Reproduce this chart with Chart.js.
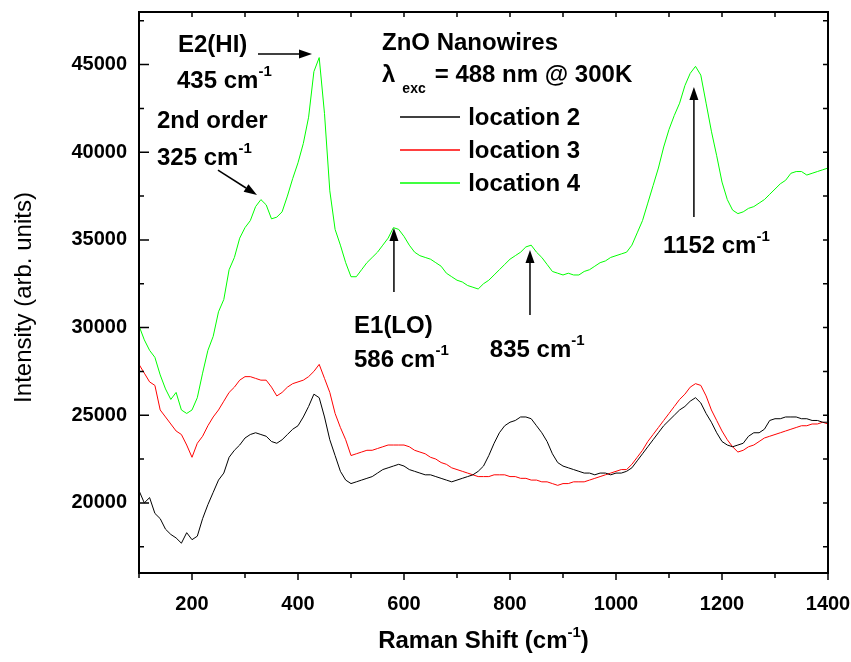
<!DOCTYPE html>
<html>
<head>
<meta charset="utf-8">
<script src="https://cdn.jsdelivr.net/npm/chart.js@4.4.1/dist/chart.umd.min.js"></script>
<style>
html,body{margin:0;padding:0;background:#fff;}
#c{display:block;}
</style>
</head>
<body>
<canvas id="c" width="851" height="662"></canvas>
<script>
// Raman shift sampling (cm-1)
const shift = [100,110,120,130,140,150,160,170,180,190,
200,210,220,230,240,250,260,270,280,290,
300,310,320,330,340,350,360,370,380,390,
400,410,420,430,440,450,460,470,480,490,
500,510,520,530,540,550,560,570,580,590,
600,610,620,630,640,650,660,670,680,690,
700,710,720,730,740,750,760,770,780,790,
800,810,820,830,840,850,860,870,880,890,
900,910,920,930,940,950,960,970,980,990,
1000,1010,1020,1030,1040,1050,1060,1070,1080,1090,
1100,1110,1120,1130,1140,1150,1160,1170,1180,1190,
1200,1210,1220,1230,1240,1250,1260,1270,1280,1290,
1300,1310,1320,1330,1340,1350,1360,1370,1380,1390,
1400];

const location2 = [20700,20000,20300,19400,19100,18500,18200,18000,17700,18300,
17900,18100,19100,19900,20600,21300,21700,22600,23000,23300,
23700,23900,24000,23900,23800,23500,23400,23600,23900,24200,
24400,24900,25500,26200,26000,24900,23600,22700,21800,21300,
21100,21200,21300,21400,21500,21700,21900,22000,22100,22200,
22100,21900,21800,21700,21600,21600,21500,21400,21300,21200,
21300,21400,21500,21600,21800,22100,22700,23400,24000,24400,
24600,24700,24900,24900,24800,24400,24000,23500,22800,22300,
22100,22000,21900,21800,21700,21700,21600,21700,21700,21600,
21700,21700,21800,22000,22400,22800,23200,23600,24000,24400,
24700,25000,25300,25500,25800,26000,25700,25100,24600,24000,
23500,23300,23200,23300,23400,23800,24000,24000,24200,24700,
24800,24800,24900,24900,24900,24800,24800,24700,24700,24600,
24600];

const location3 = [27900,27400,26900,26700,25300,24900,24500,24100,23900,23300,
22600,23400,23800,24400,24900,25300,25800,26300,26600,27000,
27200,27200,27100,27000,27000,26600,26100,26300,26600,26800,
26900,27000,27200,27500,27900,27100,26300,25100,24300,23600,
22700,22800,22900,23000,23000,23100,23200,23300,23300,23300,
23300,23200,23000,22900,22800,22600,22500,22300,22200,22000,
21900,21800,21700,21600,21500,21500,21500,21600,21600,21600,
21500,21500,21400,21400,21300,21300,21200,21200,21100,21000,
21100,21100,21200,21200,21200,21300,21400,21500,21600,21700,
21800,21900,21900,22200,22600,23000,23500,23900,24300,24700,
25100,25500,25900,26200,26600,26800,26700,26100,25300,24700,
24100,23600,23200,22900,23000,23200,23300,23500,23700,23800,
23900,24000,24100,24200,24300,24400,24400,24500,24500,24600,
24500];

const location4 = [30100,29300,28700,28300,27300,26500,25900,26300,25300,25100,
25300,26000,27400,28700,29500,30900,31600,33300,34000,35100,
35700,36100,36900,37300,37000,36200,36300,36600,37500,38500,
39400,40500,42000,44600,45400,42200,37800,35600,34700,33700,
32900,32900,33300,33700,34000,34300,34700,35100,35700,35600,
35200,34700,34300,34100,34000,33900,33700,33500,33100,32900,
32700,32600,32400,32300,32200,32500,32700,33000,33300,33600,
33900,34100,34300,34600,34700,34300,34000,33600,33200,33100,
33000,33100,33000,33000,33200,33300,33500,33700,33800,34000,
34100,34200,34300,34700,35400,36100,37100,38100,39100,40300,
41300,42100,42800,43800,44500,44900,44400,42800,41200,39800,
38300,37300,36700,36500,36600,36800,36900,37100,37300,37600,
37900,38200,38400,38800,38900,38900,38700,38800,38900,39000,
39100];

const seriesLabels = ['location 2','location 3','location 4'];
const xTicks = [200,400,600,800,1000,1200,1400];
const yTicks = [20000,25000,30000,35000,40000,45000];

const FONT = '"Liberation Sans", Arial, Helvetica, sans-serif';

// annotation texts placed in data coordinates: [text, size, dy, gapBefore]
const notes = [
  {x:173.6, y:45718, parts:[['E2(HI)',24,0,0]]},
  {x:171.7, y:43664, parts:[['435 cm',24,0,0],['-1',15,-12,0]]},
  {x:134, y:41383, parts:[['2nd order',24,0,0]]},
  {x:134, y:39272, parts:[['325 cm',24,0,0],['-1',15,-12,0]]},
  {x:505.7, y:29690, parts:[['E1(LO)',24,0,0]]},
  {x:505.7, y:27750, parts:[['586 cm',24,0,0],['-1',15,-12,0]]},
  {x:762, y:28321, parts:[['835 cm',24,0,0],['-1',15,-12,0]]},
  {x:1088.7, y:34253, parts:[['1152 cm',24,0,0],['-1',15,-12,0]]},
  {x:558.5, y:45832, parts:[['ZnO Nanowires',24,0,0]]},
  {x:558.5, y:44007, parts:[['\u03bb',24,0,0],['exc',14,11,7],['= 488 nm @ 300K',24,0,9]]}
];
const arrows = [
  {x1:324.5, y1:45604, x2:426.4, y2:45604},
  {x1:249, y1:38987, x2:322.6, y2:37561},
  {x1:581, y1:32028, x2:581, y2:35679},
  {x1:837.7, y1:30716, x2:837.7, y2:34424},
  {x1:1147, y1:36306, x2:1147, y2:43721}
];
const legendPos = {x1:592.5, x2:705.7, textX:721, rows:[42010,40128,38246]};

function drawRich(ctx, x, y, parts){
  let cx = x;
  ctx.textAlign = 'left';
  ctx.textBaseline = 'alphabetic';
  for (const [t,size,dy,gap] of parts){
    cx += gap;
    ctx.font = 'bold ' + size + 'px ' + FONT;
    ctx.fillText(t, cx, y + dy);
    cx += ctx.measureText(t).width;
  }
}

function drawArrow(ctx, x1, y1, x2, y2){
  const ang = Math.atan2(y2-y1, x2-x1);
  const L = 13, W = 4.5;
  const bx = x2 - L*Math.cos(ang), by = y2 - L*Math.sin(ang);
  ctx.beginPath();
  ctx.moveTo(x1,y1); ctx.lineTo(bx,by);
  ctx.lineWidth = 1.5; ctx.strokeStyle = '#000'; ctx.stroke();
  ctx.beginPath();
  ctx.moveTo(x2,y2);
  ctx.lineTo(bx + W*Math.sin(ang), by - W*Math.cos(ang));
  ctx.lineTo(bx - W*Math.sin(ang), by + W*Math.cos(ang));
  ctx.closePath(); ctx.fillStyle = '#000'; ctx.fill();
}

const decor = {
  id:'decor',
  afterDraw(chart){
    const ctx = chart.ctx, ca = chart.chartArea;
    const xs = chart.scales.x, ys = chart.scales.y;
    ctx.save();
    ctx.strokeStyle = '#000';
    // frame
    ctx.lineWidth = 2;
    ctx.strokeRect(ca.left, ca.top, ca.right-ca.left, ca.bottom-ca.top);
    ctx.lineWidth = 1.5;
    ctx.beginPath();
    for (let v = xs.min; v <= xs.max; v += 100){
      const p = xs.getPixelForValue(v);
      const major = xTicks.includes(v);
      ctx.moveTo(p, ca.bottom); ctx.lineTo(p, ca.bottom + (major ? 7 : 5));
      ctx.moveTo(p, ca.top); ctx.lineTo(p, ca.top + 5);
    }
    for (let v = 17500; v <= ys.max; v += 2500){
      const p = ys.getPixelForValue(v);
      const major = yTicks.includes(v);
      ctx.moveTo(ca.left, p); ctx.lineTo(ca.left + (major ? 10 : 5), p);
      ctx.moveTo(ca.right, p); ctx.lineTo(ca.right - 5, p);
    }
    ctx.stroke();

    // annotations
    ctx.fillStyle = '#000';
    for (const n of notes){
      drawRich(ctx, xs.getPixelForValue(n.x), ys.getPixelForValue(n.y), n.parts);
    }
    for (const a of arrows){
      drawArrow(ctx, xs.getPixelForValue(a.x1), ys.getPixelForValue(a.y1),
                     xs.getPixelForValue(a.x2), ys.getPixelForValue(a.y2));
    }
    // legend
    chart.data.datasets.forEach((ds,i)=>{
      const yl = ys.getPixelForValue(legendPos.rows[i]);
      ctx.beginPath();
      ctx.moveTo(xs.getPixelForValue(legendPos.x1), yl);
      ctx.lineTo(xs.getPixelForValue(legendPos.x2), yl);
      ctx.strokeStyle = ds.borderColor; ctx.lineWidth = 1.5; ctx.stroke();
      ctx.fillStyle = '#000';
      ctx.font = 'bold 24px ' + FONT;
      ctx.textBaseline = 'middle';
      ctx.textAlign = 'left';
      ctx.fillText(ds.label, xs.getPixelForValue(legendPos.textX), yl + 1);
    });

    // axis titles
    ctx.fillStyle = '#000';
    ctx.textBaseline = 'alphabetic';
    const main = 'Raman Shift (cm', sup = '-1', end = ')';
    ctx.font = 'bold 24px ' + FONT;
    const w1 = ctx.measureText(main).width, w3 = ctx.measureText(end).width;
    ctx.font = 'bold 15px ' + FONT;
    const w2 = ctx.measureText(sup).width;
    const cx = (ca.left + ca.right)/2;
    let sx = cx - (w1+w2+w3)/2;
    const by = 648;
    ctx.font = 'bold 24px ' + FONT; ctx.fillText(main, sx, by);
    ctx.font = 'bold 15px ' + FONT; ctx.fillText(sup, sx + w1, by - 11);
    ctx.font = 'bold 24px ' + FONT; ctx.fillText(end, sx + w1 + w2, by);
    ctx.save();
    ctx.translate(31, (ca.top + ca.bottom)/2 + 5);
    ctx.rotate(-Math.PI/2);
    ctx.font = '24px ' + FONT;
    ctx.textAlign = 'center';
    ctx.fillText('Intensity (arb. units)', 0, 0);
    ctx.restore();
    ctx.restore();
  }
};

const colors = ['#000000','#ff0000','#00ff00'];
const seriesData = [location2, location3, location4];

new Chart(document.getElementById('c'), {
  type:'line',
  data:{
    datasets: seriesData.map((arr,i)=>({
      label: seriesLabels[i],
      data: arr.map((v,j)=>({x:shift[j], y:v})),
      borderColor: colors[i],
      borderWidth: 1,
      pointRadius: 0,
      tension: 0,
      fill: false
    }))
  },
  options:{
    responsive:false,
    animation:false,
    events:[],
    layout:{padding:{top:12, right:23, left:0, bottom:0}},
    plugins:{legend:{display:false}, tooltip:{enabled:false}},
    scales:{
      x:{
        type:'linear', min:100, max:1400,
        afterBuildTicks(s){ s.ticks = xTicks.map(v=>({value:v})); },
        afterFit(s){ s.height = 89; s.paddingLeft = 0; s.paddingRight = 0; },
        grid:{display:false, drawTicks:false},
        border:{display:false},
        ticks:{color:'#000', padding:19, maxRotation:0, autoSkip:false,
               callback:(v)=>String(v),
               font:{family:FONT, size:20, weight:'bold'}}
      },
      y:{
        type:'linear', min:16000, max:48000,
        afterBuildTicks(s){ s.ticks = yTicks.map(v=>({value:v})); },
        afterFit(s){ s.width = 139; s.paddingTop = 0; s.paddingBottom = 0; },
        grid:{display:false, drawTicks:false},
        border:{display:false},
        ticks:{color:'#000', padding:12, callback:(v)=>String(v),
               font:{family:FONT, size:20, weight:'bold'}}
      }
    }
  },
  plugins:[decor]
});
</script>
</body>
</html>
